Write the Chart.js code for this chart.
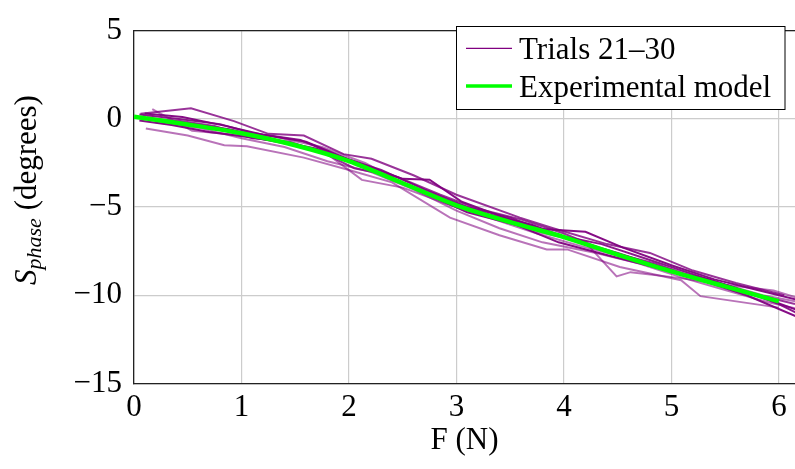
<!DOCTYPE html>
<html>
<head>
<meta charset="utf-8">
<script src="https://cdn.jsdelivr.net/npm/chart.js@4.4.1/dist/chart.umd.min.js"></script>
<style>
  html, body { margin: 0; padding: 0; background: #fff; }
  canvas { display: block; }
</style>
</head>
<body>
<canvas id="chart" width="795" height="469"></canvas>
<script>
// axis ticks
const xTicks = [0, 1, 2, 3, 4, 5, 6];
const yTicks = [-15, -10, -5, 0, 5];

// experimental model (green)
const modelF = [0, 0.5, 1, 1.5, 2, 2.5, 3, 3.5, 4, 4.5, 5, 5.5, 6];
const modelS = [0.12, -0.32, -0.82, -1.5, -2.4, -3.65, -4.9, -5.85, -6.7, -7.7, -8.65, -9.5, -10.35];

// trials 21-30
const t21F = [0.1, 0.45, 0.85, 1.2, 1.6, 2.0, 2.5, 2.75, 3.05, 3.45, 3.8, 4.2, 4.55, 5.0, 5.4, 5.8, 6.2];
const t21S = [0.3, 0.1, -0.4, -0.9, -1.3, -2.3, -3.4, -3.45, -4.7, -5.6, -6.25, -6.4, -7.3, -8.3, -9.1, -9.7, -10.3];
const t22F = [0.15, 0.5, 0.9, 1.3, 1.7, 2.1, 2.45, 2.9, 3.3, 3.7, 4.1, 4.5, 4.9, 5.3, 5.7, 6.2];
const t22S = [0.0, -0.25, -0.6, -1.2, -1.7, -2.6, -3.5, -4.6, -5.4, -6.0, -6.9, -7.6, -8.4, -9.2, -10.0, -11.3];
const t23F = [0.05, 0.4, 0.8, 1.1, 1.55, 1.9, 2.3, 2.7, 3.1, 3.5, 3.95, 4.35, 4.8, 5.2, 5.6, 6.0, 6.2];
const t23S = [0.25, 0.0, -0.3, -0.8, -1.2, -2.1, -2.9, -4.0, -5.0, -5.6, -6.6, -7.1, -8.0, -8.8, -9.6, -10.5, -11.1];
const t24F = [0.11, 0.5, 0.84, 1.05, 1.58, 2.0, 2.4, 2.94, 3.4, 3.84, 4.03, 4.52, 5.09, 5.27, 6.0];
const t24S = [-0.55, -0.95, -1.5, -1.55, -2.2, -2.9, -3.6, -5.6, -6.6, -7.4, -7.4, -8.4, -9.15, -10.05, -10.7];
const t25F = [0.17, 0.54, 0.95, 1.35, 1.8, 2.12, 2.5, 2.9, 3.3, 3.75, 4.2, 4.49, 4.62, 5.05, 5.5, 5.95, 6.2];
const t25S = [0.55, -0.68, -0.9, -1.3, -2.0, -3.46, -3.9, -4.8, -5.5, -6.4, -7.0, -8.93, -8.69, -9.0, -9.4, -9.73, -10.2];
const t26F = [0.06, 0.53, 0.93, 1.25, 1.58, 1.95, 2.21, 2.6, 3.0, 3.59, 3.9, 4.4, 4.8, 5.2, 5.6, 6.05];
const t26S = [0.29, 0.6, -0.13, -0.85, -0.95, -2.0, -2.26, -3.2, -4.3, -5.6, -6.2, -7.1, -7.6, -8.6, -9.3, -10.0];
const t27F = [0.2, 0.6, 1.0, 1.4, 1.8, 2.2, 2.6, 3.0, 3.4, 3.8, 4.3, 4.7, 5.1, 5.5, 5.9, 6.2];
const t27S = [-0.2, -0.5, -1.1, -1.6, -2.4, -3.0, -4.0, -5.2, -6.2, -7.0, -7.6, -8.2, -9.0, -9.7, -10.4, -10.8];
const t28F = [0.08, 0.4, 0.75, 1.1, 1.45, 1.75, 2.05, 2.45, 2.85, 3.2, 3.6, 4.0, 4.4, 4.85, 5.3, 5.75, 6.15];
const t28S = [0.0, -0.1, -0.4, -1.1, -1.3, -1.9, -2.8, -3.3, -4.3, -5.1, -5.7, -6.5, -7.5, -8.2, -9.2, -9.9, -10.5];
const t29F = [0.12, 0.48, 0.9, 1.3, 1.75, 2.15, 2.55, 2.95, 3.35, 3.75, 4.15, 4.6, 5.05, 5.45, 5.85, 6.2];
const t29S = [0.1, -0.3, -0.7, -1.0, -1.6, -2.5, -3.8, -4.9, -5.7, -6.5, -7.2, -7.9, -8.6, -9.3, -10.0, -10.4];
const t30F = [0.05, 0.35, 0.7, 1.15, 1.5, 1.9, 2.3, 2.7, 3.1, 3.55, 3.95, 4.45, 4.9, 5.35, 5.75, 6.2];
const t30S = [-0.1, -0.35, -0.75, -1.1, -1.5, -2.2, -3.1, -4.2, -5.3, -6.0, -7.0, -7.8, -8.5, -9.1, -9.9, -10.9];

const trials = [
  [t21F, t21S, 0.95], [t22F, t22S, 0.95], [t23F, t23S, 0.9], [t24F, t24S, 0.55], [t25F, t25S, 0.55],
  [t26F, t26S, 0.8], [t27F, t27S, 0.55], [t28F, t28S, 0.8], [t29F, t29S, 0.55], [t30F, t30S, 0.95]
];

const SERIF = '"Liberation Serif", "Times New Roman", serif';
const pts = (xs, ys) => xs.map((v, i) => ({ x: v, y: ys[i] }));

const datasets = [{
  label: 'Experimental model',
  data: pts(modelF, modelS),
  borderColor: '#00ff00',
  borderWidth: 4.5,
  pointRadius: 0,
  tension: 0.3,
  order: 0,
}];
trials.forEach(([f, s, a], i) => {
  datasets.push({
    label: 'Trial ' + (21 + i),
    data: pts(f, s),
    borderColor: `rgba(128, 0, 128, ${a})`,
    borderWidth: 2,
    pointRadius: 0,
    tension: 0,
    order: 1,
  });
});

// top frame line, y title with subscript, legend box
const extras = {
  id: 'extras',
  afterDatasetsDraw(chart) {
    const { ctx, chartArea: ca } = chart;
    ctx.save();
    ctx.strokeStyle = '#222';
    ctx.lineWidth = 1.3;
    ctx.beginPath();
    ctx.moveTo(ca.left, ca.top);
    ctx.lineTo(ca.right, ca.top);
    ctx.stroke();

    // legend
    const lx = 456.5, ly = 26.5, lw = 328.5, lh = 83;
    ctx.fillStyle = '#fff';
    ctx.fillRect(lx, ly, lw, lh);
    ctx.strokeStyle = '#000';
    ctx.lineWidth = 1;
    ctx.strokeRect(lx, ly, lw, lh);

    ctx.lineWidth = 1.3;
    ctx.strokeStyle = 'rgb(128, 0, 128)';
    ctx.beginPath();
    ctx.moveTo(466, 48.3);
    ctx.lineTo(512, 48.3);
    ctx.stroke();
    ctx.lineWidth = 3.3;
    ctx.strokeStyle = '#00ff00';
    ctx.beginPath();
    ctx.moveTo(466, 86);
    ctx.lineTo(512, 86);
    ctx.stroke();

    ctx.fillStyle = '#000';
    ctx.font = '31px ' + SERIF;
    ctx.textBaseline = 'alphabetic';
    ctx.textAlign = 'left';
    ctx.fillText('Trials 21\u201330', 519, 58.5);
    ctx.fillText('Experimental model', 519, 96.5);
    ctx.restore();
  },
  afterDraw(chart) {
    const { ctx } = chart;
    ctx.save();
    ctx.fillStyle = '#000';
    ctx.textBaseline = 'alphabetic';
    ctx.textAlign = 'left';
    const big = 'italic 31px ' + SERIF;
    const sub = 'italic 22px ' + SERIF;
    const rest = '31px ' + SERIF;
    ctx.font = big;  const w1 = ctx.measureText('S').width;
    ctx.font = sub;  const w2 = ctx.measureText('phase').width;
    ctx.font = rest; const w3 = ctx.measureText(' (degrees)').width;
    const total = w1 + w2 + w3;
    ctx.translate(36, 190);
    ctx.rotate(-Math.PI / 2);
    let x = -total / 2;
    ctx.font = big;  ctx.fillText('S', x, 0); x += w1;
    ctx.font = sub;  ctx.fillText('phase', x, 5); x += w2;
    ctx.font = rest; ctx.fillText(' (degrees)', x, 0);
    ctx.restore();
  }
};

const minus = v => String(v).replace('-', '\u2212');

new Chart(document.getElementById('chart'), {
  type: 'line',
  data: { datasets },
  plugins: [extras],
  options: {
    responsive: false,
    animation: false,
    devicePixelRatio: 1,
    layout: { padding: { top: 18.3, right: 0, bottom: 0, left: 0 } },
    plugins: { legend: { display: false }, tooltip: { enabled: false } },
    scales: {
      x: {
        type: 'linear',
        min: 0,
        max: 6.15,
        afterBuildTicks: s => { s.ticks = xTicks.map(v => ({ value: v })); },
        afterFit: s => { s.height = 85.5; },
        grid: { color: '#cccccc', lineWidth: 1.2, drawTicks: false },
        border: { color: '#222', width: 1.3 },
        ticks: { color: '#000', font: { family: SERIF, size: 31 }, padding: 6, maxRotation: 0, callback: minus },
        title: { display: true, text: 'F (N)', color: '#000', font: { family: SERIF, size: 31 }, padding: { top: 0, bottom: 10 } },
      },
      y: {
        type: 'linear',
        min: -15,
        max: 5,
        afterBuildTicks: s => { s.ticks = yTicks.map(v => ({ value: v })); },
        afterFit: s => { s.width = 134; },
        grid: { color: '#cccccc', lineWidth: 1.2, drawTicks: false },
        border: { color: '#222', width: 1.3 },
        ticks: { color: '#000', font: { family: SERIF, size: 31 }, padding: 12, callback: minus },
      },
    },
  },
});
</script>
</body>
</html>
